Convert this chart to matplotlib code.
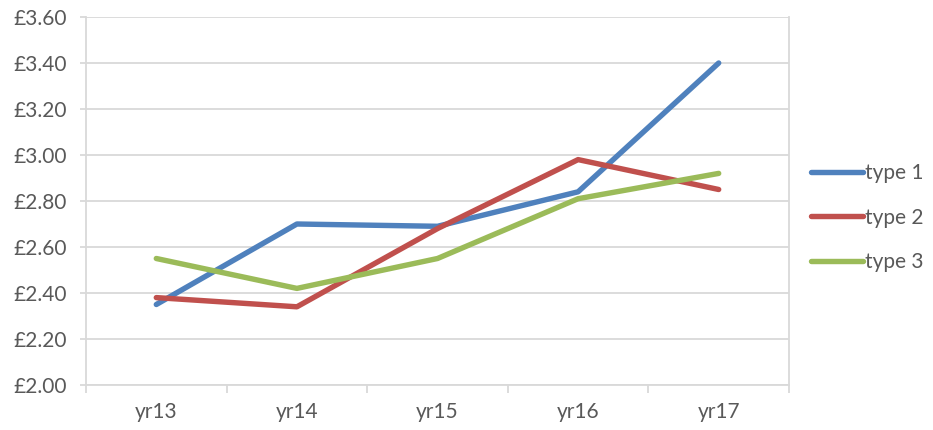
import numpy as np
import matplotlib.pyplot as plt
from matplotlib.ticker import FuncFormatter

# yearly prices per type
years = ['yr13', 'yr14', 'yr15', 'yr16', 'yr17']
type1 = [2.35, 2.70, 2.69, 2.84, 3.40]
type2 = [2.38, 2.34, 2.68, 2.98, 2.85]
type3 = [2.55, 2.42, 2.55, 2.81, 2.92]
names = ['type 1', 'type 2', 'type 3']
colours = ['#4F81BD', '#C0504D', '#9BBB59']

plt.rcParams['font.family'] = ['Lato', 'DejaVu Sans']
grey = '#595959'
light = '#D9D9D9'
fs = 15

fig = plt.figure(figsize=(9.33, 4.30), dpi=100)
ax = fig.add_axes([86 / 933, 45 / 430, (789 - 86) / 933, (385 - 17) / 430])

x = np.arange(len(years))
for vals, name, c in zip([type1, type2, type3], names, colours):
    ax.plot(x, vals, color=c, lw=3.9, label=name, solid_capstyle='round')

ax.set_xlim(-0.5, len(years) - 0.5)
ax.set_ylim(2.0, 3.6)
ax.set_yticks(np.arange(2.0, 3.61, 0.2))
ax.yaxis.set_major_formatter(FuncFormatter(lambda v, p: '£%.2f' % v))
ax.grid(axis='y', color=light, lw=1.3)
ax.set_axisbelow(True)

# category labels between tick marks at the boundaries
ax.set_xticks(np.arange(-0.5, len(years), 1.0))
ax.set_xticklabels([])
ax.set_xticks(x, minor=True)
ax.set_xticklabels(years, minor=True)
ax.tick_params(axis='x', which='major', length=6, color=light, width=1.3)
ax.tick_params(axis='x', which='minor', length=0, pad=12, labelsize=fs, labelcolor=grey)
ax.tick_params(axis='y', length=4, color=light, width=1.3, labelsize=fs, labelcolor=grey, pad=10)

for s in ['left', 'bottom', 'right']:
    ax.spines[s].set_color(light)
    ax.spines[s].set_linewidth(1.3)
ax.spines['top'].set_visible(False)

leg = ax.legend(loc='center left', bbox_to_anchor=(1.004, 0.455), frameon=False,
                fontsize=fs, handlelength=2.5, handletextpad=0.1, labelspacing=1.18)
for t in leg.get_texts():
    t.set_color(grey)

fig.savefig('out.png', dpi=100)
